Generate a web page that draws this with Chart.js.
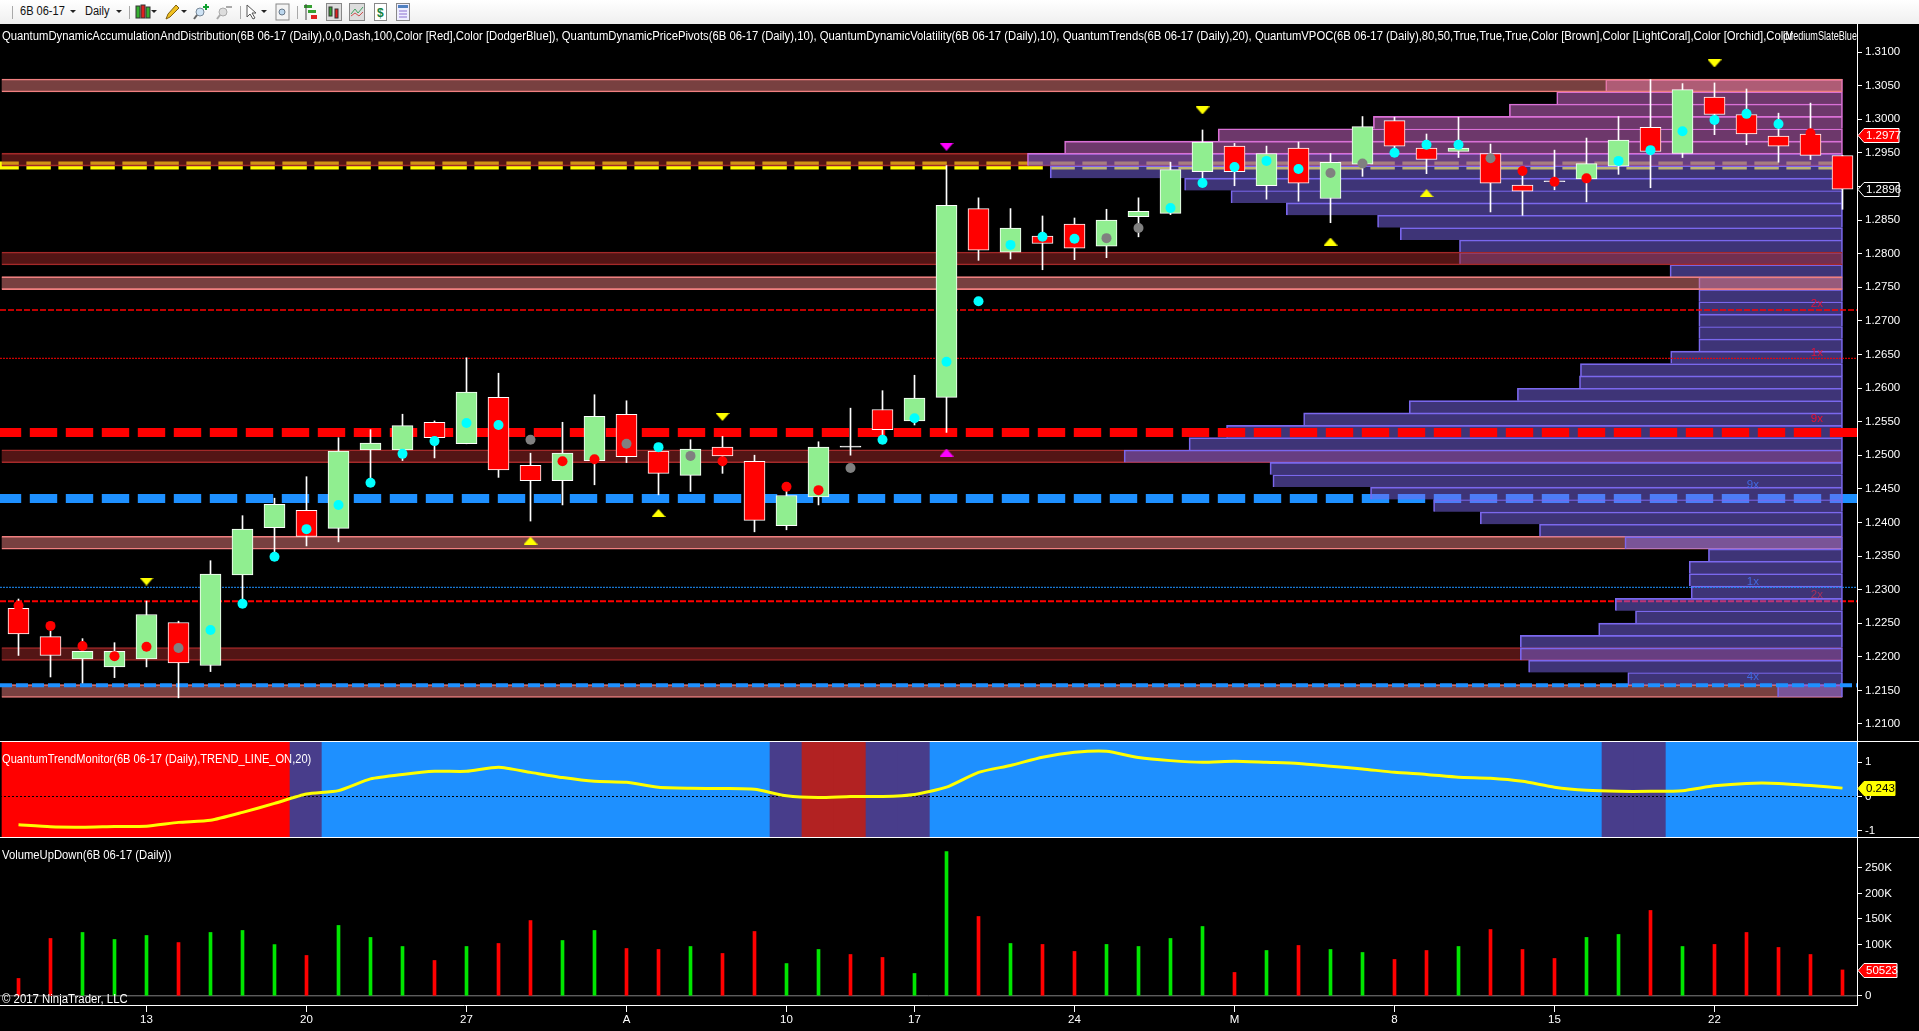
<!DOCTYPE html>
<html>
<head>
<meta charset="utf-8">
<title>6B 06-17 Daily</title>
<script src="https://cdn.jsdelivr.net/npm/chart.js@4/dist/chart.umd.min.js"></script>
<style>
  html, body { margin: 0; padding: 0; background: #000; width: 1919px; height: 1031px; overflow: hidden; }
  body, .txt { font-family: "Liberation Sans", Arial, sans-serif; }
  canvas { position: absolute; left: 0; display: block; }
  .txt { position: absolute; color: #fff; font-size: 12px; line-height: 14px; white-space: nowrap; overflow: hidden; z-index: 5; transform-origin: 0 0; }
  .sep { position: absolute; height: 1px; background: #fff; left: 0; z-index: 4; }
  #toolbar { position: absolute; left: 0; top: 0; width: 1919px; height: 24px; background: linear-gradient(#ffffff, #efefef); z-index: 6; }
  #toolbar span { position: absolute; top: 4px; font-size: 12px; line-height: 14px; color: #111; transform: scaleX(0.92); transform-origin: 0 0; }
  #toolbar i { position: absolute; top: 6px; width: 1px; height: 13px; background: #a9a9a9; }
  #toolbar b { position: absolute; top: 10px; width: 0; height: 0; border: 3px solid transparent; border-top: 3px solid #222; }
  #toolbar svg { position: absolute; top: 3px; }
</style>
</head>
<body>
<div id="toolbar">
  <i style="left:12px"></i>
  <span style="left:20px">6B 06-17</span><b style="left:70px"></b>
  <span style="left:85px">Daily</span><b style="left:116px"></b>
  <i style="left:129px"></i>
  <svg style="left:135px" width="16" height="18"><rect x="1" y="3" width="4" height="12" fill="#35b030" stroke="#333"/><rect x="6" y="2" width="4" height="13" fill="#e02020" stroke="#333"/><rect x="11" y="4" width="4" height="11" fill="#35b030" stroke="#333"/></svg><b style="left:151px"></b>
  <svg style="left:164px" width="16" height="18"><path d="M2 16 L4 11 L12 2 L15 5 L6 14 Z" fill="#f0c020" stroke="#806010"/></svg><b style="left:181px"></b>
  <svg style="left:193px" width="17" height="18"><circle cx="7" cy="9" r="4" fill="#cfe3f5" stroke="#789"/><path d="M4 12 L1 16" stroke="#666" stroke-width="2"/><path d="M13 1 V7 M10 4 H16" stroke="#10a030" stroke-width="2"/></svg>
  <svg style="left:216px" width="17" height="18"><circle cx="7" cy="9" r="4" fill="#ddd" stroke="#aaa"/><path d="M4 12 L1 16" stroke="#aaa" stroke-width="2"/><path d="M10 4 H16" stroke="#aaa" stroke-width="2"/></svg>
  <i style="left:240px"></i>
  <svg style="left:245px" width="14" height="18"><path d="M2 2 L2 14 L5 11 L8 16 L10 15 L7 10 L11 10 Z" fill="#fff" stroke="#555"/></svg><b style="left:261px"></b>
  <svg style="left:275px" width="15" height="18"><rect x="1" y="1" width="13" height="16" fill="#f4f4f4" stroke="#888"/><circle cx="7" cy="9" r="3" fill="#bcd7ee" stroke="#678"/></svg>
  <i style="left:297px"></i>
  <svg style="left:303px" width="16" height="18"><rect x="1" y="2" width="8" height="3" fill="#35a030"/><rect x="5" y="7" width="8" height="3" fill="#35a030"/><rect x="8" y="12" width="6" height="4" fill="#e02020"/><path d="M3 1 V17" stroke="#444"/></svg>
  <svg style="left:326px" width="16" height="18"><rect x="0.5" y="0.5" width="15" height="17" fill="#ddd" stroke="#888"/><rect x="3" y="4" width="3" height="9" fill="#35a030" stroke="#333"/><rect x="9" y="6" width="3" height="9" fill="#e02020" stroke="#333"/></svg>
  <svg style="left:349px" width="16" height="18"><rect x="0.5" y="0.5" width="15" height="17" fill="#ddd" stroke="#888"/><path d="M2 11 L6 6 L9 10 L14 4" stroke="#40a060" fill="none"/><path d="M2 13 L6 10 L10 13 L14 9" stroke="#d05050" fill="none"/></svg>
  <svg style="left:374px" width="13" height="18"><rect x="0.5" y="0.5" width="12" height="17" fill="#fff" stroke="#888"/><text x="3" y="14" font-size="12" font-weight="bold" fill="#108040">$</text></svg>
  <svg style="left:396px" width="14" height="18"><rect x="0.5" y="0.5" width="13" height="17" fill="#eef" stroke="#888"/><rect x="2" y="2" width="10" height="3" fill="#5080c0"/><path d="M3 8 H11 M3 11 H11 M3 14 H11" stroke="#8a6fd0"/></svg>
</div>

<div class="txt" style="left:2px;top:29px;transform:scaleX(0.941)">QuantumDynamicAccumulationAndDistribution(6B 06-17 (Daily),0,0,Dash,100,Color [Red],Color [DodgerBlue]), QuantumDynamicPricePivots(6B 06-17 (Daily),10), QuantumDynamicVolatility(6B 06-17 (Daily),10), QuantumTrends(6B 06-17 (Daily),20), QuantumVPOC(6B 06-17 (Daily),80,50,True,True,True,Color [Brown],Color [LightCoral],Color [Orchid],Color</div>
<div class="txt" style="left:1783px;top:29px;transform:scaleX(0.76)">[MediumSlateBlue</div>
<div class="txt" style="left:2px;top:752px;transform:scaleX(0.925)">QuantumTrendMonitor(6B 06-17 (Daily),TREND_LINE_ON,20)</div>
<div class="txt" style="left:2px;top:848px;transform:scaleX(0.938)">VolumeUpDown(6B 06-17 (Daily))</div>
<div class="txt" style="left:2px;top:992px;transform:scaleX(0.949)">© 2017 NinjaTrader, LLC</div>

<div class="sep" style="top:741px;width:1919px"></div>
<div class="sep" style="top:837px;width:1919px"></div>

<canvas id="priceChart" width="1919" height="717" style="top:24px"></canvas>
<canvas id="trendChart" width="1919" height="96" style="top:741px"></canvas>
<canvas id="volumeChart" width="1919" height="194" style="top:837px"></canvas>

<script>
// daily bars
var barOpen = [1.2272,1.2230,1.2197,1.2185,1.2197,1.2251,1.2187,1.2322,1.2392,1.2418,
  1.2391,1.2508,1.2508,1.2549,1.2517,1.2586,1.2485,1.2462,1.2492,1.2561,
  1.2506,1.2470,1.2512,1.2491,1.2395,1.2438,1.2512,1.2568,1.2551,1.2586,
  1.2867,1.2802,1.2826,1.2844,1.2811,1.2855,1.2860,1.2922,1.2960,1.2901,
  1.2957,1.2882,1.2933,1.2998,1.2957,1.2952,1.2949,1.2902,1.2907,1.2911,
  1.2930,1.2988,1.2949,1.3033,1.3007,1.2975,1.2978,1.2946];
var barClose = [1.2234,1.2202,1.2208,1.2208,1.2263,1.2191,1.2323,1.2390,1.2427,1.2379,
  1.2506,1.2518,1.2544,1.2526,1.2594,1.2478,1.2462,1.2503,1.2558,1.2498,
  1.2473,1.2509,1.2499,1.2403,1.2440,1.2512,1.2512,1.2538,1.2585,1.2872,
  1.2805,1.2838,1.2815,1.2808,1.2850,1.2863,1.2925,1.2966,1.2922,1.2949,
  1.2905,1.2936,1.2989,1.2960,1.2940,1.2957,1.2905,1.2893,1.2907,1.2934,
  1.2969,1.2952,1.3044,1.3007,1.2978,1.2960,1.2946,1.2896];
var barHigh = [1.2286,1.2238,1.2227,1.2221,1.2283,1.2253,1.2343,1.2410,1.2436,1.2468,
  1.2526,1.2538,1.2561,1.2551,1.2645,1.2622,1.2503,1.2549,1.2590,1.2581,
  1.2513,1.2523,1.2528,1.2500,1.2448,1.2520,1.2570,1.2596,1.2619,1.2931,
  1.2883,1.2867,1.2856,1.2853,1.2866,1.2883,1.2936,1.2984,1.2964,1.2960,
  1.2966,1.2949,1.3004,1.3003,1.2978,1.3003,1.2963,1.2923,1.2954,1.2972,
  1.3004,1.3059,1.3053,1.3054,1.3045,1.3009,1.3024,1.2946];
var barLow = [1.2202,1.2170,1.2161,1.2169,1.2185,1.2139,1.2178,1.2282,1.2354,1.2365,
  1.2371,1.2463,1.2492,1.2496,1.2517,1.2467,1.2402,1.2426,1.2456,1.2489,
  1.2441,1.2446,1.2473,1.2386,1.2389,1.2426,1.2500,1.2525,1.2545,1.2534,
  1.2790,1.2792,1.2776,1.2791,1.2794,1.2825,1.2858,1.2905,1.2901,1.2881,
  1.2878,1.2846,1.2915,1.2957,1.2919,1.2943,1.2862,1.2857,1.2895,1.2877,
  1.2918,1.2898,1.2943,1.2977,1.2962,1.2936,1.2940,1.2866];

// pivot dots on each bar
var dotPrice = [1.2276,1.2246,1.2216,1.2201,1.2215,1.2213,1.2240,1.2279,1.2349,1.2390,
  1.2426,1.2459,1.2502,1.2521,1.2548,1.2545,1.2523,1.2491,1.2494,1.2517,
  1.2512,1.2499,1.2491,null,1.2453,1.2448,1.2481,1.2523,1.2555,1.2639,
  1.2729,1.2813,1.2825,1.2822,1.2823,1.2838,1.2868,1.2905,1.2929,1.2938,
  1.2926,1.2920,1.2934,1.2950,1.2962,1.2962,1.2942,1.2923,1.2907,1.2912,
  1.2938,1.2954,1.2982,1.2999,1.3008,1.2993,1.2979,null];
var dotKind = ['r','r','r','r','r','g','c','c','c','c',
  'c','c','c','c','c','c','g','r','r','g',
  'c','g','r','','r','r','g','c','c','c',
  'c','c','c','c','g','g','c','c','c','c',
  'c','g','g','c','c','c','g','r','r','r',
  'c','c','c','c','c','c','r',''];

// triangles above / below bars
var yellowDownBars = [4,22,37,53];
var yellowDownPrices = [1.2312,1.2557,1.3013,1.3083];
var yellowUpBars = [16,20,41,44];
var yellowUpPrices = [1.2373,1.2414,1.2818,1.2890];
var magentaBar = 29;
var magentaDownPrice = 1.2959;
var magentaUpPrice = 1.2504;

// volume profile, one row per price bucket, row starts at this bar position and runs to the last bar
var vpocPrices = [1.30502,1.30318,1.30134,1.29950,1.29766,1.29583,1.29399,1.29215,1.29031,1.28847,
  1.28663,1.28479,1.28295,1.28111,1.27927,1.27743,1.27560,1.27376,1.27192,1.27008,
  1.26824,1.26640,1.26456,1.26272,1.26088,1.25904,1.25720,1.25537,1.25353,1.25169,
  1.24985,1.24801,1.24617,1.24433,1.24249,1.24065,1.23881,1.23697,1.23514,1.23330,
  1.23146,1.22962,1.22778,1.22594,1.22410,1.22226,1.22042,1.21858,1.21674,1.21491];
var vpocStart = [49.60,48.07,46.59,42.34,37.49,32.69,31.53,32.24,36.44,37.89,
  39.62,42.47,43.18,45.03,45.03,51.61,52.51,52.51,52.51,52.51,
  52.51,52.51,51.63,48.81,48.78,46.84,43.46,40.16,37.75,36.58,
  34.55,39.11,39.20,42.25,44.22,45.68,47.53,50.20,52.81,52.21,
  52.21,52.27,49.90,50.53,49.38,46.93,46.93,47.19,50.29,54.97];
var vpocEnd = 57;
var vpocOrchidRows = 6;

// supply and demand zones
var brownLowPrices = [1.29399,1.24985,1.22042];
var coralLowPrices = [1.23697,1.21491];
var brownHighPrices = [1.27927];
var coralHighPrices = [1.30502,1.27560];

// pivot levels
var yellowLevel = 1.29311;
var redLevel = 1.25338;
var blueLevel = 1.24356;
var redThin1 = 1.27161;
var redThin2 = 1.26442;
var blueThin = 1.23034;
var redThin3 = 1.22826;
var blueLow = 1.21576;

var levelLabels = ['2x','1x','9x','9x','1x','2x','4x'];
var levelLabelBars = [56.2,56.2,56.2,54.2,54.2,56.2,54.2];
var levelLabelPrices = [1.2725,1.2652,1.2554,1.2456,1.2311,1.2292,1.2170];
var levelLabelColors = ['#dc143c','#dc143c','#ee1030','#4169e1','#4169e1','#a8305c','#4169e1'];

// trend monitor
var trendValues = [-0.82,-0.88,-0.89,-0.87,-0.86,-0.75,-0.69,-0.46,-0.20,0.07,
  0.17,0.51,0.64,0.73,0.73,0.85,0.70,0.55,0.44,0.41,
  0.27,0.24,0.23,0.21,0.02,-0.03,0.00,0.00,0.06,0.27,
  0.70,0.90,1.14,1.28,1.31,1.13,1.04,0.99,1.02,0.99,
  0.96,0.88,0.80,0.70,0.64,0.56,0.53,0.44,0.27,0.18,
  0.15,0.15,0.17,0.31,0.38,0.38,0.32,0.243];
var trendZones = ['r','r','r','r','r','r','r','r','r','s',
  'b','b','b','b','b','b','b','b','b','b',
  'b','b','b','b','s','f','f','s','s','b',
  'b','b','b','b','b','b','b','b','b','b',
  'b','b','b','b','b','b','b','b','b','b',
  's','s','b','b','b','b','b','b'];

// volume
var volumeValues = [33900,112000,123700,110000,117800,104000,123700,127600,100000,78800,
  137400,114000,96300,69000,96300,102200,147000,108000,127600,92400,
  90500,96300,82700,125600,63000,90500,80700,74900,43600,281900,
  154900,102200,100300,86600,100300,96300,112000,135400,45600,88500,
  98300,90500,84600,71000,88500,96300,129500,90500,72900,114000,
  119800,166700,96300,100300,123700,94400,80700,50523];

// axes
var priceTicks = [1.31,1.305,1.30,1.295,1.29,1.285,1.28,1.275,1.27,1.265,1.26,1.255,1.25,1.245,1.24,1.235,1.23,1.225,1.22,1.215,1.21];
var trendTicks = [1,0,-1];
var volumeTicks = [0,100000,150000,200000,250000];
var volumeTickLabels = ['0','100K','150K','200K','250K'];
var dateTickBars = [4,9,14,19,24,28,33,38,43,48,53];
var dateTickLabels = ['13','20','27','A','10','17','24','M','8','15','22'];

var xMin = -0.578125, xMax = 57.453125;

var GREEN = '#90ee90', RED = '#ff0000', CYAN = '#00ffff', GRAY = '#808080';
var ORCHID = 'rgb(218,112,214)', SLATE = 'rgb(123,104,238)';
var BROWN = 'rgb(165,42,42)', CORAL = 'rgb(240,128,128)';

Chart.defaults.font.family = '"Liberation Sans", Arial, sans-serif';
Chart.defaults.font.size = 11.5;
Chart.defaults.color = '#fff';

function bars(n) {
  var out = [];
  for (var i = 0; i < n; i++) out.push(i);
  return out;
}
var barIndex = bars(barOpen.length);

function level(price, color, width, dash, offset, order, endX) {
  return {
    type: 'line',
    data: [{x: xMin, y: price}, {x: endX === undefined ? xMax : endX, y: price}],
    borderColor: color,
    borderWidth: width,
    borderDash: dash,
    borderDashOffset: offset,
    pointRadius: 0,
    order: order
  };
}

function zones(prices, color, alpha, order) {
  return {
    type: 'bar',
    indexAxis: 'y',
    data: prices.map(function(p) { return {x: [xMin + 0.05, vpocEnd], y: p}; }),
    backgroundColor: color.replace('rgb', 'rgba').replace(')', ',' + alpha + ')'),
    borderColor: color,
    borderWidth: {top: 1, bottom: 1, left: 0, right: 0},
    borderSkipped: false,
    barThickness: 13,
    grouped: false,
    order: order
  };
}

// flat triangle marker, the round-built ones are too tall
function flatTriangle(color, up) {
  var c = document.createElement('canvas');
  c.width = 14; c.height = 8;
  var g = c.getContext('2d');
  g.fillStyle = color;
  g.beginPath();
  if (up) { g.moveTo(7, 0); g.lineTo(14, 8); g.lineTo(0, 8); }
  else { g.moveTo(0, 0); g.lineTo(14, 0); g.lineTo(7, 8); }
  g.closePath();
  g.fill();
  return c;
}

function markers(xs, ys, image, order) {
  return {
    type: 'line',
    showLine: false,
    data: xs.map(function(x, i) { return {x: x, y: ys[i]}; }),
    pointStyle: image,
    pointRadius: 7,
    order: order
  };
}

function tagPlugin(scaleId, tags) {
  return {
    id: 'tags' + scaleId,
    afterDraw: function(chart) {
      var ctx = chart.ctx;
      var x0 = chart.chartArea.right + 1;
      tags.forEach(function(t) {
        var y = Math.round(chart.scales[scaleId].getPixelForValue(t.value)) + 0.5;
        ctx.save();
        ctx.beginPath();
        ctx.moveTo(x0, y);
        ctx.lineTo(x0 + 6, y - 7);
        ctx.lineTo(x0 + t.width, y - 7);
        ctx.lineTo(x0 + t.width, y + 7);
        ctx.lineTo(x0 + 6, y + 7);
        ctx.closePath();
        ctx.fillStyle = t.fill;
        ctx.fill();
        ctx.strokeStyle = t.stroke;
        ctx.stroke();
        ctx.fillStyle = t.color;
        ctx.font = '11.5px "Liberation Sans", Arial, sans-serif';
        ctx.textBaseline = 'middle';
        ctx.fillText(t.text, x0 + 8, y + 0.5);
        ctx.restore();
      });
    }
  };
}

var levelLabelPlugin = {
  id: 'levelLabels',
  afterDatasetsDraw: function(chart) {
    var ctx = chart.ctx;
    ctx.save();
    ctx.font = '11.5px "Liberation Sans", Arial, sans-serif';
    ctx.textAlign = 'center';
    ctx.textBaseline = 'middle';
    levelLabels.forEach(function(t, i) {
      ctx.fillStyle = levelLabelColors[i];
      ctx.fillText(t, chart.scales.x.getPixelForValue(levelLabelBars[i]), chart.scales.y.getPixelForValue(levelLabelPrices[i]));
    });
    ctx.restore();
  }
};

function yAxis(min, max, ticks, fmt) {
  return {
    type: 'linear',
    position: 'right',
    min: min,
    max: max,
    offset: false,
    border: {color: '#fff'},
    grid: {drawOnChartArea: false, color: '#fff', tickLength: 5, offset: false},
    ticks: {color: '#fff', padding: 3, callback: fmt, autoSkip: false},
    afterBuildTicks: function(s) { s.ticks = ticks.map(function(v) { return {value: v}; }); },
    afterFit: function(s) { s.width = 62; s.paddingTop = 0; s.paddingBottom = 0; }
  };
}

function hiddenX() {
  return {type: 'linear', min: xMin, max: xMax, offset: false, display: false, grid: {offset: false}};
}

function baseOptions(xScale, yScale) {
  return {
    responsive: false,
    animation: false,
    events: [],
    layout: {padding: 0, autoPadding: false},
    plugins: {legend: {display: false}, tooltip: {enabled: false}},
    scales: {x: xScale, y: yScale}
  };
}

function bodyColor(i) {
  if (barClose[i] === barOpen[i]) return '#fff';
  return barClose[i] > barOpen[i] ? GREEN : RED;
}
function dotColor(kind) {
  return kind === 'c' ? CYAN : kind === 'r' ? RED : GRAY;
}

// price panel, highest order is painted first
var priceDatasets = [
  level(yellowLevel, '#ffff00', 8, [24.4, 7.6], 5.6, 90, vpocEnd),
  level(blueLevel, '#1e90ff', 9, [27.4, 8.6], 6.2, 89),
  level(redThin3, RED, 2, [6, 2], 0, 88),
  zones(brownLowPrices, BROWN, 0.5, 80),
  zones(coralLowPrices, CORAL, 0.5, 79),
  {
    type: 'bar',
    indexAxis: 'y',
    data: vpocPrices.map(function(p, i) { return {x: [vpocStart[i], vpocEnd], y: p}; }),
    backgroundColor: vpocPrices.map(function(p, i) { return i < vpocOrchidRows ? 'rgba(218,112,214,0.5)' : 'rgba(123,104,238,0.5)'; }),
    borderColor: vpocPrices.map(function(p, i) { return i <= vpocOrchidRows ? ORCHID : SLATE; }),
    borderWidth: {top: 1, left: 1, right: 1, bottom: 0},
    borderSkipped: false,
    barThickness: 12.36,
    grouped: false,
    order: 70
  },
  zones(brownHighPrices, BROWN, 0.5, 60),
  zones(coralHighPrices, CORAL, 0.5, 59),
  level(redLevel, RED, 9, [27.4, 8.6], 6.2, 50),
  level(redThin1, RED, 1.5, [6, 2], 0, 49),
  level(redThin2, RED, 1, [2, 1], 0, 48),
  level(blueThin, '#1e90ff', 1, [2, 1], 0, 47),
  level(blueLow, '#1e90ff', 4, [12, 4], 0, 46),
  {
    type: 'bar',
    data: barIndex.map(function(i) { return {x: i, y: [barLow[i], barHigh[i]]}; }),
    backgroundColor: '#fff',
    barThickness: 1,
    grouped: false,
    order: 30
  },
  {
    type: 'bar',
    data: barIndex.map(function(i) { return {x: i, y: [barOpen[i], barClose[i]]}; }),
    backgroundColor: barIndex.map(bodyColor),
    borderColor: '#fff',
    borderWidth: 1,
    borderSkipped: false,
    barThickness: 21,
    minBarLength: 1,
    grouped: false,
    order: 29
  },
  {
    type: 'line',
    showLine: false,
    data: barIndex.map(function(i) { return {x: i, y: dotPrice[i]}; }),
    pointRadius: 5,
    pointBorderWidth: 0,
    pointBackgroundColor: dotKind.map(dotColor),
    order: 20
  },
  markers(yellowDownBars, yellowDownPrices, flatTriangle('#ffff00', false), 10),
  markers(yellowUpBars, yellowUpPrices, flatTriangle('#ffff00', true), 10),
  markers([magentaBar], [magentaDownPrice], flatTriangle('#ff00ff', false), 10),
  markers([magentaBar], [magentaUpPrice], flatTriangle('#ff00ff', true), 10)
];

new Chart(document.getElementById('priceChart'), {
  type: 'bar',
  data: {datasets: priceDatasets},
  options: baseOptions(hiddenX(), yAxis(1.20747, 1.31417, priceTicks, function(v) { return v.toFixed(4); })),
  plugins: [levelLabelPlugin, tagPlugin('y', [
    {value: 1.2977, text: '1.2977', width: 41, fill: RED, stroke: '#fff', color: '#fff'},
    {value: 1.2896, text: '1.2896', width: 41, fill: '#000', stroke: '#fff', color: '#fff'}
  ])]
});

// trend monitor panel
var trendMin = -1.174, trendMax = 1.609;
var zoneColors = {r: RED, s: '#483d8b', b: '#1e90ff', f: '#b22222'};

new Chart(document.getElementById('trendChart'), {
  type: 'bar',
  data: {datasets: [
    {
      type: 'bar',
      data: barIndex.map(function(i) { return {x: i, y: [trendMin, trendMax]}; }),
      backgroundColor: trendZones.map(function(z) { return zoneColors[z]; }),
      barThickness: 33,
      grouped: false,
      order: 3
    },
    level(0, '#000', 1, [2, 2], 0, 2),
    {
      type: 'line',
      data: barIndex.map(function(i) { return {x: i, y: trendValues[i]}; }),
      borderColor: '#ffff00',
      borderWidth: 3,
      tension: 0.2,
      pointRadius: 0,
      order: 1
    }
  ]},
  options: baseOptions(hiddenX(), yAxis(trendMin, trendMax, trendTicks, function(v) { return String(v); })),
  plugins: [tagPlugin('y', [
    {value: 0.243, text: '0.243', width: 37, fill: '#ffff00', stroke: '#ffff00', color: '#000'}
  ])]
});

// volume panel, carries the date axis
new Chart(document.getElementById('volumeChart'), {
  type: 'bar',
  data: {datasets: [
    level(0, GRAY, 1, [], 0, 2),
    {
      type: 'bar',
      data: barIndex.map(function(i) { return {x: i, y: volumeValues[i]}; }),
      backgroundColor: barIndex.map(function(i) { return barClose[i] > barOpen[i] ? '#00e600' : RED; }),
      barThickness: 3,
      grouped: false,
      order: 1
    }
  ]},
  options: baseOptions({
    type: 'linear',
    min: xMin,
    max: xMax,
    offset: false,
    border: {color: '#fff'},
    grid: {drawOnChartArea: false, color: '#fff', tickLength: 7, offset: false},
    ticks: {
      color: '#fff',
      padding: 1,
      autoSkip: false,
      maxRotation: 0,
      callback: function(v) { return dateTickLabels[dateTickBars.indexOf(v)]; }
    },
    afterBuildTicks: function(s) { s.ticks = dateTickBars.map(function(v) { return {value: v}; }); },
    afterFit: function(s) { s.height = 26; s.paddingLeft = 0; s.paddingRight = 0; }
  }, yAxis(-17969, 310156, volumeTicks, function(v) { return volumeTickLabels[volumeTicks.indexOf(v)]; })),
  plugins: [tagPlugin('y', [
    {value: 50523, text: '50523', width: 39, fill: RED, stroke: '#fff', color: '#fff'}
  ])]
});
</script>
</body>
</html>
